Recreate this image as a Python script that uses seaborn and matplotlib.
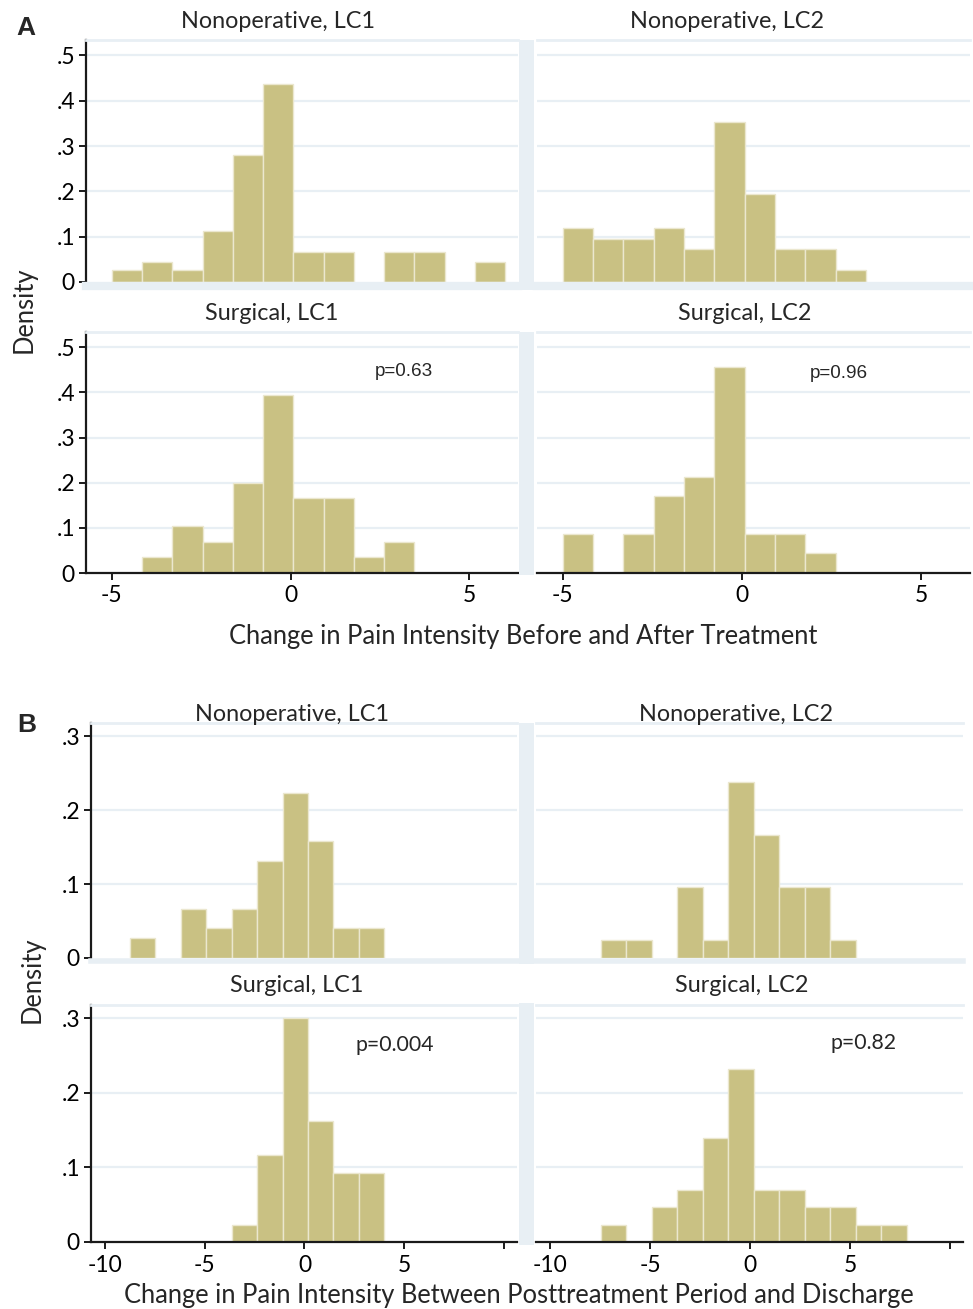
import numpy as np
import pandas as pd
import seaborn as sns
import matplotlib
matplotlib.use("Agg")
import matplotlib.pyplot as plt
from matplotlib.patches import Rectangle

# ---------------- data (density per bin) ----------------
# Panel A : common bins starting at -5, width 11/13
a_bin_start = -5.0
a_bin_width = 11 / 13
a_nonop_lc1 = [0.027, 0.044, 0.027, 0.113, 0.281, 0.436, 0.067, 0.067, 0.0, 0.067, 0.067, 0.0, 0.044]
a_nonop_lc2 = [0.119, 0.095, 0.095, 0.119, 0.073, 0.354, 0.194, 0.073, 0.073, 0.026, 0.0, 0.0, 0.0]
a_surg_lc1 = [0.0, 0.035, 0.104, 0.068, 0.199, 0.394, 0.166, 0.166, 0.035, 0.068, 0.0, 0.0, 0.0]
a_surg_lc2 = [0.086, 0.0, 0.086, 0.171, 0.212, 0.457, 0.086, 0.086, 0.045, 0.0, 0.0, 0.0, 0.0]
a_xticks = [-5, 0, 5]
a_xticklabels = ["-5", "0", "5"]
a_yticks = [0, 0.1, 0.2, 0.3, 0.4, 0.5]
a_yticklabels = ["0", ".1", ".2", ".3", ".4", ".5"]
a_pvalues = ["p=0.63", "p=0.96"]

# Panel B : common bins starting at -8.75, width 1.275
b_bin_start = -8.75
b_bin_width = 1.275
b_nonop_lc1 = [0.027, 0.0, 0.066, 0.041, 0.066, 0.131, 0.223, 0.158, 0.041, 0.041, 0.0, 0.0, 0.0]
b_nonop_lc2 = [0.0, 0.025, 0.025, 0.0, 0.096, 0.025, 0.238, 0.167, 0.096, 0.096, 0.025, 0.0, 0.0]
b_surg_lc1 = [0.0, 0.0, 0.0, 0.0, 0.023, 0.117, 0.301, 0.162, 0.093, 0.093, 0.0, 0.0, 0.0]
b_surg_lc2 = [0.0, 0.023, 0.0, 0.047, 0.070, 0.139, 0.232, 0.070, 0.070, 0.047, 0.047, 0.023, 0.023]
b_xticks = [-10, -5, 0, 5, 10]
b_xticklabels = ["-10", "-5", "0", "5", ""]
b_yticks = [0, 0.1, 0.2, 0.3]
b_yticklabels = ["0", ".1", ".2", ".3"]
b_pvalues = ["p=0.004", "p=0.82"]

titles = ["Nonoperative, LC1", "Nonoperative, LC2", "Surgical, LC1", "Surgical, LC2"]
a_xlabel = "Change in Pain Intensity Before and After Treatment"
b_xlabel = "Change in Pain Intensity Between Posttreatment Period and Discharge"
ylabel = "Density"

# ---------------- style ----------------
sns.set_theme(style="white")
plt.rcParams["font.family"] = ["Lato", "DejaVu Sans"]

W, H = 973, 1309
fig = plt.figure(figsize=(W / 100, H / 100), dpi=100)
fig.patch.set_facecolor("white")

BAR = "#c9c183"
EDGE = "#ebe7cf"
LIGHT = "#e8eff4"
GRID = "#e8eff4"
AXC = "#1a1a1a"
TITLE_FS = 16.8
TICK_FS = 16.5
LABEL_FS = 18.4


def px_axes(x0, x1, y0, y1):
    return fig.add_axes([x0 / W, 1 - y1 / H, (x1 - x0) / W, (y1 - y0) / H])


def band(x0, x1, y0, y1):
    fig.patches.append(Rectangle((x0 / W, 1 - y1 / H), (x1 - x0) / W, (y1 - y0) / H,
                                 transform=fig.transFigure, facecolor=LIGHT,
                                 edgecolor="none", zorder=0))


def draw_hist(ax, heights, start, width, xlim, ylim, yticks, yticklabels,
              xticks, xticklabels, left_col, bottom_row, bottom_band_lw):
    n = len(heights)
    centers = start + width * (np.arange(n) + 0.5)
    df = pd.DataFrame({"x": centers, "w": heights})
    sns.histplot(data=df, x="x", weights="w", bins=n,
                 binrange=(start, start + n * width), stat="count",
                 color=BAR, alpha=1, edgecolor=EDGE, linewidth=1.0, ax=ax)
    for p in list(ax.patches):
        if p.get_height() <= 0:
            p.remove()
    ax.set_xlim(*xlim)
    ax.set_ylim(*ylim)
    ax.set_xlabel("")
    ax.set_ylabel("")
    ax.set_yticks(yticks)
    for y in yticks[1:]:
        ax.axhline(y, color=GRID, lw=1.6, zorder=0)
    ax.set_axisbelow(True)
    ax.spines["right"].set_visible(False)
    ax.spines["top"].set_color(LIGHT)
    ax.spines["top"].set_linewidth(2)
    if left_col:
        ax.spines["left"].set_color(AXC)
        ax.spines["left"].set_linewidth(1.6)
        ax.set_yticklabels(yticklabels)
        ax.tick_params(axis="y", which="both", left=True, length=5, width=1.4,
                       color=AXC, labelsize=TICK_FS, pad=3, labelcolor="black")
    else:
        ax.spines["left"].set_visible(False)
        ax.tick_params(axis="y", left=False, labelleft=False)
    if bottom_row:
        ax.spines["bottom"].set_color(AXC)
        ax.spines["bottom"].set_linewidth(1.6)
        ax.set_xticks(xticks)
        ax.set_xticklabels(xticklabels)
        ax.tick_params(axis="x", which="both", bottom=True, length=5, width=1.4,
                       color=AXC, labelsize=TICK_FS, pad=4, labelcolor="black")
    else:
        ax.spines["bottom"].set_color(LIGHT)
        ax.spines["bottom"].set_linewidth(bottom_band_lw)
        ax.spines["bottom"].set_position(("outward", bottom_band_lw / 2))
        ax.tick_params(axis="x", bottom=False, labelbottom=False)
    ax.set_facecolor("white")


# ---------------- Panel A ----------------
a_rows = [(40, 282), (332, 573)]
a_cols = [(86, 518), (537, 970)]
a_data = [[a_nonop_lc1, a_nonop_lc2], [a_surg_lc1, a_surg_lc2]]
band(519, 534, 40, 290)
band(519, 534, 332, 575)
for r, (y0, y1) in enumerate(a_rows):
    for c, (x0, x1) in enumerate(a_cols):
        ax = px_axes(x0, x1, y0, y1)
        draw_hist(ax, a_data[r][c], a_bin_start, a_bin_width, (-5.72, 6.36), (0, 0.534),
                  a_yticks, a_yticklabels, a_xticks, a_xticklabels,
                  left_col=(c == 0), bottom_row=(r == 1), bottom_band_lw=6)

a_title_pos = [(278, 21), (727, 21), (272, 314), (745, 314)]
for t, (x, y) in zip(titles, a_title_pos):
    fig.text(x / W, 1 - y / H, t, ha="center", va="center", fontsize=TITLE_FS)
fig.text(404 / W, 1 - 371 / H, a_pvalues[0], ha="center", va="center", fontsize=13.6,
         family=["Liberation Sans"])
fig.text(839 / W, 1 - 373 / H, a_pvalues[1], ha="center", va="center", fontsize=13.6,
         family=["Liberation Sans"])
fig.text(523 / W, 1 - 636 / H, a_xlabel, ha="center", va="center", fontsize=LABEL_FS)
fig.text(24 / W, 1 - 310 / H, ylabel, ha="center", va="center", fontsize=LABEL_FS, rotation=90)
fig.text(26 / W, 1 - 28 / H, "A", ha="center", va="center", fontsize=19,
         fontweight="bold", family=["Liberation Sans"])

# ---------------- Panel B ----------------
b_rows = [(723, 958), (1005, 1242)]
b_cols = [(91, 517), (536, 963)]
b_data = [[b_nonop_lc1, b_nonop_lc2], [b_surg_lc1, b_surg_lc2]]
band(519, 534, 723, 964)
band(519, 534, 1003, 1245)
for r, (y0, y1) in enumerate(b_rows):
    for c, (x0, x1) in enumerate(b_cols):
        ax = px_axes(x0, x1, y0, y1)
        draw_hist(ax, b_data[r][c], b_bin_start, b_bin_width, (-10.7, 10.65), (0, 0.318),
                  b_yticks, b_yticklabels, b_xticks, b_xticklabels,
                  left_col=(c == 0), bottom_row=(r == 1), bottom_band_lw=4)

b_title_pos = [(292, 715), (736, 715), (297, 986), (742, 986)]
for t, (x, y) in zip(titles, b_title_pos):
    fig.text(x / W, 1 - y / H, t, ha="center", va="center", fontsize=TITLE_FS)
fig.text(395 / W, 1 - 1045 / H, b_pvalues[0], ha="center", va="center", fontsize=15.3)
fig.text(864 / W, 1 - 1043 / H, b_pvalues[1], ha="center", va="center", fontsize=15.3)
fig.text(519 / W, 1 - 1295 / H, b_xlabel, ha="center", va="center", fontsize=LABEL_FS)
fig.text(32 / W, 1 - 980 / H, ylabel, ha="center", va="center", fontsize=LABEL_FS, rotation=90)
fig.text(27 / W, 1 - 725 / H, "B", ha="center", va="center", fontsize=19,
         fontweight="bold", family=["Liberation Sans"])

fig.savefig("out.png", dpi=100, facecolor="white")
